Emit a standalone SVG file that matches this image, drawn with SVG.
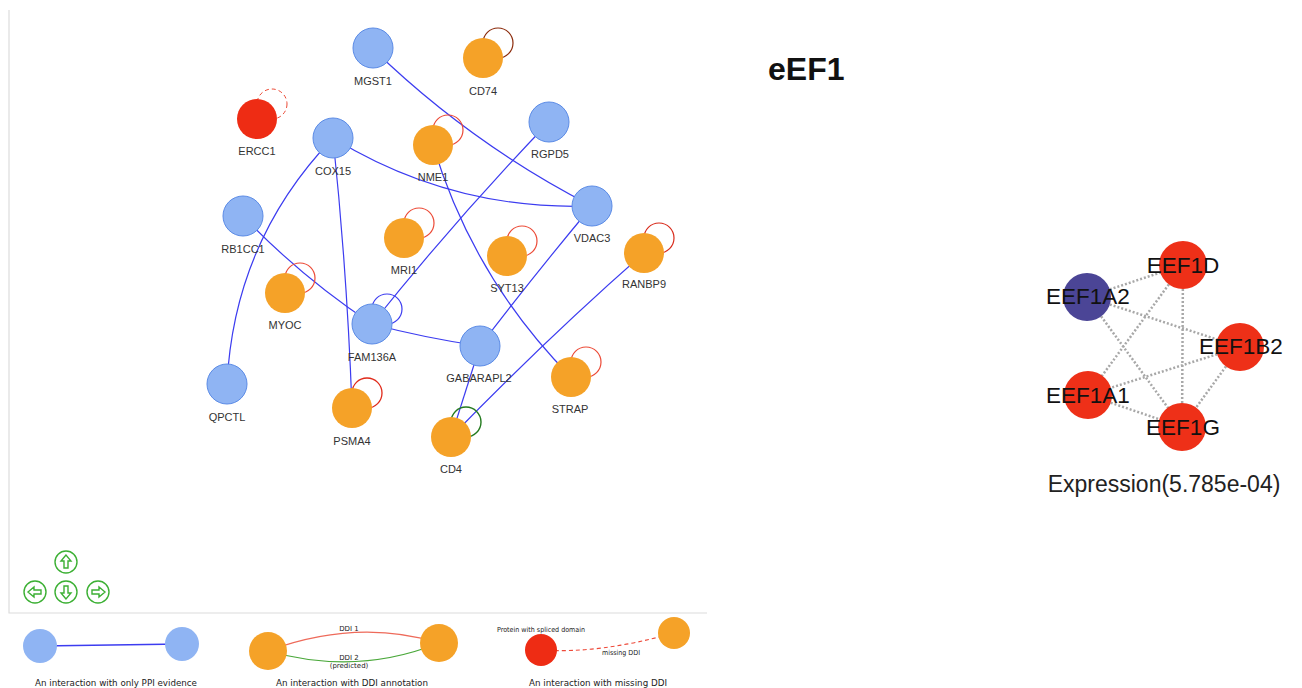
<svg xmlns="http://www.w3.org/2000/svg" width="1302" height="688" viewBox="0 0 1302 688">
<style>
.bg{fill:#fff}
.e{fill:none;stroke:#3c3cf0;stroke-width:1.2}
.b{fill:#8fb4f3;stroke:#5b8be6;stroke-width:1}
.o{fill:#f5a228}
.r{fill:#ee2c14}
.loop{fill:none;stroke:#ec4a36;stroke-width:1.2}
.lbl{font-family:"Liberation Sans",Arial,sans-serif;font-size:11px;fill:#333;text-anchor:middle}
.big{font-family:"Liberation Sans",Arial,sans-serif;font-size:22.5px;fill:#111;text-anchor:middle}
.se{stroke:#a8a8a8;stroke-width:2.5;stroke-dasharray:2 2;fill:none}
.leg{font-family:"DejaVu Sans",Verdana,sans-serif;font-size:9px;fill:#222;text-anchor:middle}
.legs{font-family:"DejaVu Sans",Verdana,sans-serif;font-size:7px;fill:#222;text-anchor:middle}
.btn{fill:none;stroke:#3cb034;stroke-width:1.4}
.frame{stroke:#dcdcdc;stroke-width:1.2;fill:none}
</style>
<rect class="bg" x="0" y="0" width="1302" height="688"/>
<path class="frame" d="M9,10 V613 H707"/>

<g id="connectors">
<path class="e" d="M373,49 Q471,144 592,206"/>
<path class="e" d="M333,138 Q452,211 592,206"/>
<path class="e" d="M333,138 Q347,270 352,408"/>
<path class="e" d="M333,138 Q234,241 227,384"/>
<path class="e" d="M433,145 Q473,278 571,377"/>
<path class="e" d="M549,122 Q455,220 372,324"/>
<path class="e" d="M243,216 Q300,276 372,324"/>
<path class="e" d="M372,324 Q425,338 480,346"/>
<path class="e" d="M592,206 Q535,274 480,346"/>
<path class="e" d="M480,346 L451,437"/>
<path class="e" d="M644,253 Q545,340 451,437"/>
</g>

<g id="MGST1"><circle class="b" cx="373" cy="48" r="20"/><text class="lbl" x="373" y="85">MGST1</text></g>
<g id="CD74"><circle cx="498" cy="43" r="15" fill="none" stroke="#8b2a0a" stroke-width="1.2"/><circle class="o" cx="483" cy="58" r="20"/><text class="lbl" x="483" y="95">CD74</text></g>
<g id="ERCC1"><circle cx="272" cy="104" r="15" fill="none" stroke="#ec4a36" stroke-width="1" stroke-dasharray="4 3"/><circle class="r" cx="257" cy="119" r="20"/><text class="lbl" x="257" y="155">ERCC1</text></g>
<g id="COX15"><circle class="b" cx="333" cy="138" r="20"/><text class="lbl" x="333" y="175">COX15</text></g>
<g id="NME1"><circle class="loop" cx="448" cy="130" r="15"/><circle class="o" cx="433" cy="145" r="20"/><text class="lbl" x="433" y="181">NME1</text></g>
<g id="RGPD5"><circle class="b" cx="549" cy="122" r="20"/><text class="lbl" x="550" y="158">RGPD5</text></g>
<g id="VDAC3"><circle class="b" cx="592" cy="206" r="20"/><text class="lbl" x="592" y="242">VDAC3</text></g>
<g id="RB1CC1"><circle class="b" cx="243" cy="216" r="20"/><text class="lbl" x="243" y="253">RB1CC1</text></g>
<g id="MRI1"><circle class="loop" cx="419" cy="223" r="15"/><circle class="o" cx="404" cy="238" r="20"/><text class="lbl" x="404" y="274">MRI1</text></g>
<g id="SYT13"><circle class="loop" cx="522" cy="241" r="15"/><circle class="o" cx="507" cy="256" r="20"/><text class="lbl" x="507" y="292">SYT13</text></g>
<g id="RANBP9"><circle cx="659" cy="238" r="15" fill="none" stroke="#d82a1a" stroke-width="1.2"/><circle class="o" cx="644" cy="253" r="20"/><text class="lbl" x="644" y="288">RANBP9</text></g>
<g id="MYOC"><circle class="loop" cx="300" cy="278" r="15"/><circle class="o" cx="285" cy="293" r="20"/><text class="lbl" x="285" y="329">MYOC</text></g>
<g id="FAM136A"><circle cx="387" cy="309" r="15" fill="none" stroke="#3c3cf0" stroke-width="1.2"/><circle class="b" cx="372" cy="324" r="20"/><text class="lbl" x="372" y="361">FAM136A</text></g>
<g id="GABARAPL2"><circle class="b" cx="480" cy="346" r="20"/><text class="lbl" x="479" y="382">GABARAPL2</text></g>
<g id="STRAP"><circle class="loop" cx="586" cy="362" r="15"/><circle class="o" cx="571" cy="377" r="20"/><text class="lbl" x="570" y="413">STRAP</text></g>
<g id="QPCTL"><circle class="b" cx="227" cy="384" r="20"/><text class="lbl" x="227" y="421">QPCTL</text></g>
<g id="PSMA4"><circle cx="367" cy="393" r="15" fill="none" stroke="#e02a1a" stroke-width="1.3"/><circle class="o" cx="352" cy="408" r="20"/><text class="lbl" x="352" y="445">PSMA4</text></g>
<g id="CD4"><circle cx="466" cy="422" r="15" fill="none" stroke="#237a1e" stroke-width="1.4"/><circle class="o" cx="451" cy="437" r="20"/><text class="lbl" x="451" y="473">CD4</text></g>

<g id="nav">
<circle class="btn" cx="66" cy="562" r="11"/><path class="btn" d="M66,555 L61,561 H64 V568 H68 V561 H71 Z"/>
<circle class="btn" cx="35" cy="592" r="11"/><path class="btn" d="M28,592 L34,587 V590 H41 V594 H34 V597 Z"/>
<circle class="btn" cx="66" cy="592" r="11"/><path class="btn" d="M66,599 L61,593 H64 V586 H68 V593 H71 Z"/>
<circle class="btn" cx="98" cy="592" r="11"/><path class="btn" d="M105,592 L99,587 V590 H92 V594 H99 V597 Z"/>
</g>

<g id="legend-ppi">
<path d="M40,646 L182,644" stroke="#3c3cf0" stroke-width="1.3" fill="none"/>
<circle cx="40" cy="646" r="17" fill="#8fb4f3"/>
<circle cx="182" cy="644" r="17" fill="#8fb4f3"/>
<text class="leg" x="116" y="686" textLength="162" lengthAdjust="spacingAndGlyphs">An interaction with only PPI evidence</text>
</g>
<g id="legend-ddi">
<path d="M268,651 Q357,618 439,643" stroke="#ee6a5a" stroke-width="1.2" fill="none"/>
<path d="M268,651 Q357,676 439,643" stroke="#4aa83a" stroke-width="1.2" fill="none"/>
<circle cx="268" cy="651" r="19" class="o"/>
<circle cx="439" cy="643" r="19" class="o"/>
<text class="legs" x="349" y="631">DDI 1</text>
<text class="legs" x="349" y="660">DDI 2</text>
<text class="legs" x="349" y="668">(predicted)</text>
<text class="leg" x="352" y="686" textLength="152" lengthAdjust="spacingAndGlyphs">An interaction with DDI annotation</text>
</g>
<g id="legend-missing">
<path d="M541,650 Q600,654 674,633" stroke="#ee4a3a" stroke-width="1.1" stroke-dasharray="4 3" fill="none"/>
<circle cx="541" cy="650" r="16" class="r"/>
<circle cx="674" cy="633" r="16" class="o"/>
<text class="legs" x="541" y="632" textLength="88" lengthAdjust="spacingAndGlyphs">Protein with spliced domain</text>
<text class="legs" x="621" y="655" textLength="38" lengthAdjust="spacingAndGlyphs">missing DDI</text>
<text class="leg" x="598" y="686" textLength="138" lengthAdjust="spacingAndGlyphs">An interaction with missing DDI</text>
</g>

<text x="768" y="80" font-family="'Liberation Sans',Arial,sans-serif" font-size="32" font-weight="bold" fill="#111">eEF1</text>

<g id="eef1-connectors">
<line class="se" x1="1087" y1="297" x2="1183" y2="265"/>
<line class="se" x1="1087" y1="297" x2="1240" y2="347"/>
<line class="se" x1="1087" y1="297" x2="1182" y2="427"/>
<line class="se" x1="1183" y1="265" x2="1088" y2="395"/>
<line class="se" x1="1183" y1="265" x2="1182" y2="427"/>
<line class="se" x1="1240" y1="347" x2="1088" y2="395"/>
<line class="se" x1="1240" y1="347" x2="1182" y2="427"/>
<line class="se" x1="1088" y1="395" x2="1182" y2="427"/>
</g>
<g id="EEF1A2"><circle cx="1087" cy="297" r="24" fill="#4b4596"/><text class="big" x="1088" y="304">EEF1A2</text></g>
<g id="EEF1D"><circle cx="1183" cy="265" r="24" fill="#ee3018"/><text class="big" x="1183" y="273">EEF1D</text></g>
<g id="EEF1B2"><circle cx="1240" cy="347" r="24" fill="#ee3018"/><text class="big" x="1241" y="354">EEF1B2</text></g>
<g id="EEF1A1"><circle cx="1088" cy="395" r="24" fill="#ee3018"/><text class="big" x="1088" y="403">EEF1A1</text></g>
<g id="EEF1G"><circle cx="1182" cy="427" r="24" fill="#ee3018"/><text class="big" x="1183" y="435">EEF1G</text></g>
<text x="1164" y="492" font-family="'Liberation Sans',Arial,sans-serif" font-size="23" fill="#222" text-anchor="middle">Expression(5.785e-04)</text>
</svg>
